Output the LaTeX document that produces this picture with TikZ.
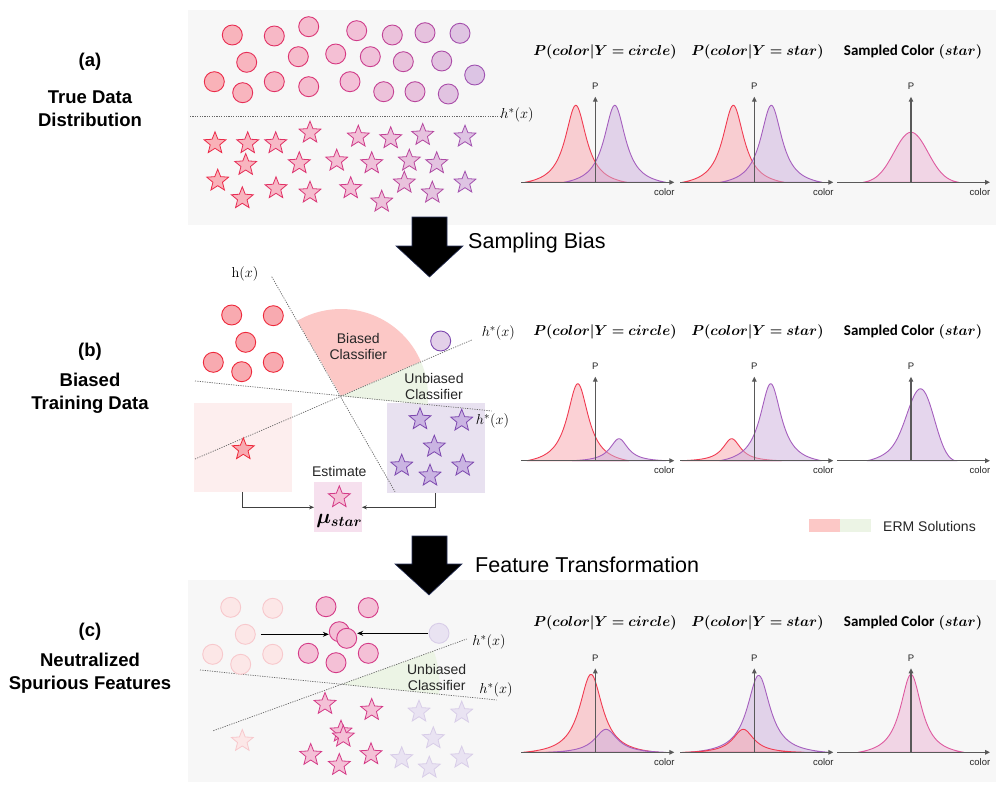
\documentclass[tikz,border=0pt]{standalone}
\usepackage[no-math]{fontspec}
\setmainfont{Liberation Sans}
\newfontfamily\carlito{Carlito}
\usepackage{bm}
\usetikzlibrary{shapes.geometric,arrows.meta}

\definecolor{bgray}{RGB}{247,247,247}
\definecolor{cRf}{RGB}{249,178,184}
\definecolor{cRl}{RGB}{236,42,72}
\definecolor{cKf}{RGB}{244,192,214}
\definecolor{cKl}{RGB}{212,58,135}
\definecolor{cPf}{RGB}{220,196,228}
\definecolor{cPl}{RGB}{158,82,178}
\definecolor{bRf}{RGB}{248,170,176}
\definecolor{bRl}{RGB}{238,40,58}
\definecolor{bPf}{RGB}{202,180,226}
\definecolor{bPl}{RGB}{125,72,175}
\definecolor{fRf}{RGB}{252,231,231}
\definecolor{fRl}{RGB}{247,200,204}
\definecolor{fPf}{RGB}{233,227,242}
\definecolor{fPl}{RGB}{216,205,232}
\definecolor{curRf}{RGB}{249,165,172}
\definecolor{curRl}{RGB}{240,60,82}
\definecolor{curPf}{RGB}{205,175,221}
\definecolor{curPl}{RGB}{165,95,190}
\definecolor{curKf}{RGB}{236,180,212}
\definecolor{curKl}{RGB}{222,90,160}
\definecolor{wedR}{RGB}{252,200,198}
\definecolor{wedG}{RGB}{236,244,229}
\definecolor{rectR}{RGB}{253,238,238}
\definecolor{rectP}{RGB}{232,225,240}
\definecolor{rectE}{RGB}{246,224,238}
\definecolor{arrowEdge}{RGB}{40,50,90}

\newcommand\setmix[1]{%
  \pgfmathtruncatemacro\tq{max(0,min(100,((#1)-214)*0.383))}%
  \ifnum\tq<50 \pgfmathtruncatemacro\uq{2*\tq}\colorlet{mixf}{cKf!\uq!cRf}\colorlet{mixl}{cKl!\uq!cRl}%
  \else \pgfmathtruncatemacro\uq{2*\tq-100}\colorlet{mixf}{cPf!\uq!cKf}\colorlet{mixl}{cPl!\uq!cKl}\fi}

\newcommand\pcurve[4]{\filldraw[#1] plot[domain=#2:#3, samples=110, smooth] (\x,{-(#4)}) -- cycle;}

\newcommand\plotaxes[2]{%
  \draw[axisline] (-74,0) -- (79,0);
  \draw[axisline] (0,0) -- (0,-#2);
  \node[smalllab] (#1P) at (0,-#2-10) {P};
  \node[smalllab] (#1c) at (69,9.5) {color};}

\begin{document}
\begin{tikzpicture}[x=1pt,y=-1pt,
  declare function={
    lor(\zd,\zg,\zw)=(1/(1+(\zd*\zd)/(\zg*\zg))-1/(1+(\zw*\zw)/(\zg*\zg)))/(1-1/(1+(\zw*\zw)/(\zg*\zg)));
    gau(\zd,\zs,\zw)=(exp(-(\zd*\zd)/(2*\zs*\zs))-exp(-(\zw*\zw)/(2*\zs*\zs)))/(1-exp(-(\zw*\zw)/(2*\zs*\zs)));},
  circ/.style={circle, minimum size=20pt, inner sep=0pt, line width=0.9pt},
  starn/.style={star, star points=5, star point ratio=2.3, minimum size=23pt, inner sep=0pt, line width=0.8pt},
  hline/.style={draw=black!60, line width=0.7pt, dash pattern=on 1.2pt off 1.2pt},
  axisline/.style={draw=black!65, line width=1.3pt, -{Triangle[length=5pt,width=4.5pt]}},
  smalllab/.style={font=\fontsize{9.5}{11}\selectfont, inner sep=0pt, text=black!85},
  ttl/.style={font=\fontsize{15}{18}\selectfont, inner sep=0pt},
  lab/.style={font=\fontsize{18.5}{23}\selectfont\bfseries, align=center, inner sep=0pt},
  mathlab/.style={font=\fontsize{15}{17}\selectfont, inner sep=0pt},
  cls/.style={font=\fontsize{14}{16}\selectfont, align=center, inner sep=0pt, text=black!85},
  bigtxt/.style={font=\fontsize{21.5}{25}\selectfont, anchor=west, inner sep=0pt},
  redc/.style={draw=curRl, line width=0.9pt, fill=curRf, fill opacity=0.5},
  purc/.style={draw=curPl, line width=0.9pt, fill=curPf, fill opacity=0.5},
  pinkc/.style={draw=curKl, line width=0.9pt, fill=curKf, fill opacity=0.5},
  conn/.style={draw=black!75, line width=0.8pt, -{Stealth[length=5pt,width=4pt]}},
  blk/.style={draw=black, line width=1.1pt, -{Stealth[length=6pt,width=5pt]}},
  bigarrow/.style={fill=black, draw=arrowEdge, line width=0.6pt},
  boxn/.style={inner sep=0pt, draw=none}
]
\useasboundingbox (0,0) rectangle (996,797);
\fill[white] (0,0) rectangle (996,797);

% panel backgrounds
\fill[bgray] (188,10) rectangle (996,225);
\fill[bgray] (188,580) rectangle (996,782);

% panel labels
\node[lab] (la) at (90,62) {(a)};
\node[lab] (lat) at (90,108.5) {True Data\\Distribution};
\node[lab] (lb) at (90,352) {(b)};
\node[lab] (lbt) at (90,393.5) {Biased\\Training Data};
\node[lab] (lc) at (90,632) {(c)};
\node[lab] (lct) at (90,673.5) {Neutralized\\Spurious Features};

% ================= (a) =================
\coordinate (ha1) at (190,116);
\coordinate (ha2) at (500,116);
\draw[hline] (ha1) -- (ha2);
\node[mathlab] (hal) at (517,115) {$h^{*}(x)$};

\foreach \x/\y [count=\i] in {232.3/35, 274.3/36, 308.7/26.7, 356.7/30.7, 392.3/35, 425/32.7, 460/33.3,
  246.7/62.3, 298.3/56.7, 335.7/54, 370.3/56.7, 403.3/61.7, 441.7/61, 474.7/75,
  214.3/81.7, 242.7/92.7, 274.3/81.7, 308.7/86.7, 350/81.7, 383.7/91.7, 415/91.7, 448.3/94}{
  \setmix{\x}
  \node[circ, fill=mixf, draw=mixl] (ac\i) at (\x,\y) {};
}
\foreach \x/\y [count=\i] in {215/143.3, 247.7/143.3, 275.7/143.3, 310/132.7, 358.3/136.7, 390.7/138.3, 422.7/135, 465/136.7,
  245.7/165, 299.3/163.3, 336.7/160.7, 371.7/163.3, 409.3/160.7, 436.7/163.3,
  217.7/180.7, 242.3/198.3, 276/188.3, 310/192.7, 350.7/188.3, 381.7/201.7, 404.3/182.7, 432.3/192.7, 465/182.7}{
  \setmix{\x}
  \node[starn, fill=mixf, draw=mixl] (as\i) at (\x,\y) {};
}

% (a) plots
\node[ttl] (ta1) at (605,51.7) {$\bm{P(color|Y=circle)}$};
\node[ttl] (ta2) at (757.5,51.7) {$\bm{P(color|Y=star)}$};
\node[ttl] (ta3) at (913,51.7) {{\carlito\bfseries Sampled Color} $\bm{(star)}$};
\begin{scope}[shift={(595.3,182.3)}]
  \pcurve{redc}{-70.5}{31.5}{77*lor(\x+19.5,13,51)}
  \pcurve{purc}{-31.5}{70.5}{77*lor(\x-19.5,13,51)}
  \plotaxes{pa1}{85.6}
\end{scope}
\begin{scope}[shift={(754.3,182.3)}]
  \pcurve{redc}{-72}{30}{77*lor(\x+21,13,51)}
  \pcurve{purc}{-34}{68}{77*lor(\x-17,13,51)}
  \plotaxes{pa2}{85.6}
\end{scope}
\begin{scope}[shift={(911,182.3)}]
  \pcurve{pinkc}{-48}{48}{50*gau(\x,17,48)}
  \plotaxes{pa3}{85.6}
\end{scope}

% big arrow 1
\path[bigarrow] (412,217) -- (447,217) -- (447,246) -- (463,246) -- (429.5,277) -- (396,246) -- (412,246) -- cycle;
\node[bigtxt] (sb) at (468,243) {Sampling Bias};

% ================= (b) =================
\node[boxn, fill=rectR, minimum width=97.7pt, minimum height=89pt] (pinkrect) at (242.85,447.2) {};
\node[boxn, fill=rectP, minimum width=98.3pt, minimum height=89.4pt] (purprect) at (435.85,448) {};
\node[boxn, fill=rectE, minimum width=47.4pt, minimum height=50pt] (est) at (338,507.3) {};

\coordinate (ob) at (341,396);
\fill[wedR] (ob) -- plot[domain=23.3:120.2, samples=40] ({341+87*cos(\x)},{396-87*sin(\x)}) -- cycle;
\fill[wedG] (ob) -- plot[domain=-5.8:23.3, samples=20] ({341+87*cos(\x)},{396-87*sin(\x)}) -- cycle;

\coordinate (hb1) at (271.7,276.7);
\coordinate (hb2) at (395,491.7);
\coordinate (hbu1) at (195,459);
\coordinate (hbu2) at (471.7,340);
\coordinate (hbl1) at (195,381);
\coordinate (hbl2) at (491.7,411);
\draw[hline] (hb1) -- (hb2);
\draw[hline] (hbu1) -- (hbu2);
\draw[hline] (hbl1) -- (hbl2);
\node[mathlab] (hbl) at (245,274) {$\mathrm{h}(x)$};
\node[mathlab] (hbsl1) at (498.3,333.3) {$h^{*}(x)$};
\node[mathlab] (hbsl2) at (492.5,420.7) {$h^{*}(x)$};

\foreach \x/\y [count=\i] in {231.7/315, 273.3/315.7, 245.7/342.3, 213.3/362.3, 241.7/371.7, 273.3/362.3}{
  \node[circ, fill=bRf, draw=bRl] (bc\i) at (\x,\y) {};
}
\node[circ, fill=cPf!80!white, draw=bPl] (bcp) at (440.7,341) {};
\node[starn, fill=bRf, draw=bRl] (bsr) at (243.3,449.3) {};
\foreach \x/\y [count=\i] in {420/419.3, 461.7/420.7, 434.3/446.7, 401.7/465.7, 430/475.7, 462.7/465.7}{
  \node[starn, fill=bPf, draw=bPl] (bsp\i) at (\x,\y) {};
}
\node[cls] (bcl) at (358.3,346.7) {Biased\\Classifier};
\node[cls] (ucl) at (434,386.3) {Unbiased\\Classifier};

\node[cls] (estl) at (339.3,471) {Estimate};
\node[starn, fill=cKf, draw=cKl] (ests) at (339.3,497.3) {};
\node[inner sep=0pt, font=\fontsize{20}{22}\selectfont] (mu) at (339.3,520.7) {$\bm{\mu_{star}}$};
\draw[conn] (pinkrect.south) |- (est.west);
\draw[conn] (purprect.south) |- (est.east);

% (b) plots
\node[ttl] (tb1) at (605,331.7) {$\bm{P(color|Y=circle)}$};
\node[ttl] (tb2) at (757.5,331.7) {$\bm{P(color|Y=star)}$};
\node[ttl] (tb3) at (913,331.7) {{\carlito\bfseries Sampled Color} $\bm{(star)}$};
\begin{scope}[shift={(595.3,460.7)}]
  \pcurve{redc}{-68.5}{33.5}{77*lor(\x+17.5,13,51)}
  \pcurve{purc}{-23.3}{70.7}{22*lor(\x-23.7,11,47)}
  \plotaxes{pb1}{84}
\end{scope}
\begin{scope}[shift={(754.3,460.7)}]
  \pcurve{redc}{-72.6}{27.4}{22*lor(\x+22.6,11,50)}
  \pcurve{purc}{-34.6}{67.4}{77*lor(\x-16.4,13,51)}
  \plotaxes{pb2}{84}
\end{scope}
\begin{scope}[shift={(911,460.7)}]
  \pcurve{purc}{-44}{44}{(71*exp(-((\x-10)*(\x-10))/392)+6*exp(-((\x+20)*(\x+20))/512))*(1-(\x/44)*(\x/44)*(\x/44)*(\x/44))}
  \plotaxes{pb3}{84}
\end{scope}

% legend
\node[boxn, fill=wedR, minimum width=31pt, minimum height=13.3pt] (lg1) at (824.5,525.7) {};
\node[boxn, fill=wedG, minimum width=31pt, minimum height=13.3pt] (lg2) at (855.5,525.7) {};
\node[cls, anchor=west] (lgt) at (883,526.7) {ERM Solutions};

% big arrow 2
\path[bigarrow] (412,536) -- (447,536) -- (447,564) -- (462,564) -- (429,595) -- (395,564) -- (412,564) -- cycle;
\node[bigtxt] (ft) at (475,565) {Feature Transformation};

% ================= (c) =================
\coordinate (oc) at (341.5,684.3);
\fill[wedG] (oc) -- plot[domain=-5.8:19.9, samples=20] ({341.5+98*cos(\x)},{684.3-98*sin(\x)}) -- cycle;
\coordinate (hcu1) at (213.3,730.7);
\coordinate (hcu2) at (466.7,639);
\coordinate (hcl1) at (200,670);
\coordinate (hcl2) at (496.7,700);
\draw[hline] (hcu1) -- (hcu2);
\draw[hline] (hcl1) -- (hcl2);
\node[mathlab] (hcsl1) at (489,641.7) {$h^{*}(x)$};
\node[mathlab] (hcsl2) at (496,690.3) {$h^{*}(x)$};

\foreach \x/\y [count=\i] in {230.7/607.3, 272.7/608.3, 245.3/634.3, 212.7/654.3, 240.7/664.3, 272.7/654.3}{
  \node[circ, fill=fRf, draw=fRl] (fc\i) at (\x,\y) {};
}
\node[circ, fill=fPf, draw=fPl] (fpc) at (439,633.3) {};
\foreach \x/\y [count=\i] in {326/606.7, 368.3/607.7, 339.3/631.7, 346.7/638.3, 308.3/653.3, 336/662.7, 368.3/653.3}{
  \node[circ, fill=cKf, draw=cKl] (pc\i) at (\x,\y) {};
}
\draw[blk] ([xshift=5pt]fc3.east) -- (fc3.east -| pc3.west);
\draw[blk] ([xshift=-1pt]fpc.west) -- (fpc.west -| pc4.east);

\node[starn, fill=fRf, draw=fRl] (fsr) at (242.3,741) {};
\foreach \x/\y [count=\i] in {419/711.7, 461.7/712.7, 433.3/738.3, 401.7/758.3, 429.3/767.7, 461.7/757.7}{
  \node[starn, fill=fPf, draw=fPl] (fsp\i) at (\x,\y) {};
}
\foreach \x/\y [count=\i] in {325/704, 371.7/710, 341/731.7, 343.3/736.7, 310.7/755, 339.3/765, 371/754.3}{
  \node[starn, fill=cKf, draw=cKl] (ps\i) at (\x,\y) {};
}
\node[cls] (ucl2) at (436.7,677.5) {Unbiased\\Classifier};

% (c) plots
\node[ttl] (tc1) at (605,622.7) {$\bm{P(color|Y=circle)}$};
\node[ttl] (tc2) at (757.5,622.7) {$\bm{P(color|Y=star)}$};
\node[ttl] (tc3) at (913,622.7) {{\carlito\bfseries Sampled Color} $\bm{(star)}$};
\begin{scope}[shift={(595.3,752.3)}]
  \pcurve{redc}{-72.3}{63.7}{78*lor(\x+4.3,14,68)}
  \pcurve{purc}{-49.3}{70.7}{23*lor(\x-10.7,14,60)}
  \plotaxes{pc1}{84}
\end{scope}
\begin{scope}[shift={(754.3,752.3)}]
  \pcurve{purc}{-65.6}{74.4}{77*lor(\x-4.4,14,70)}
  \pcurve{redc}{-72}{50}{23*lor(\x+11,13,61)}
  \plotaxes{pc2}{84}
\end{scope}
\begin{scope}[shift={(911,752.3)}]
  \pcurve{pinkc}{-53}{53}{78*lor(\x,13,53)}
  \plotaxes{pc3}{84}
\end{scope}
\end{tikzpicture}
\end{document}
